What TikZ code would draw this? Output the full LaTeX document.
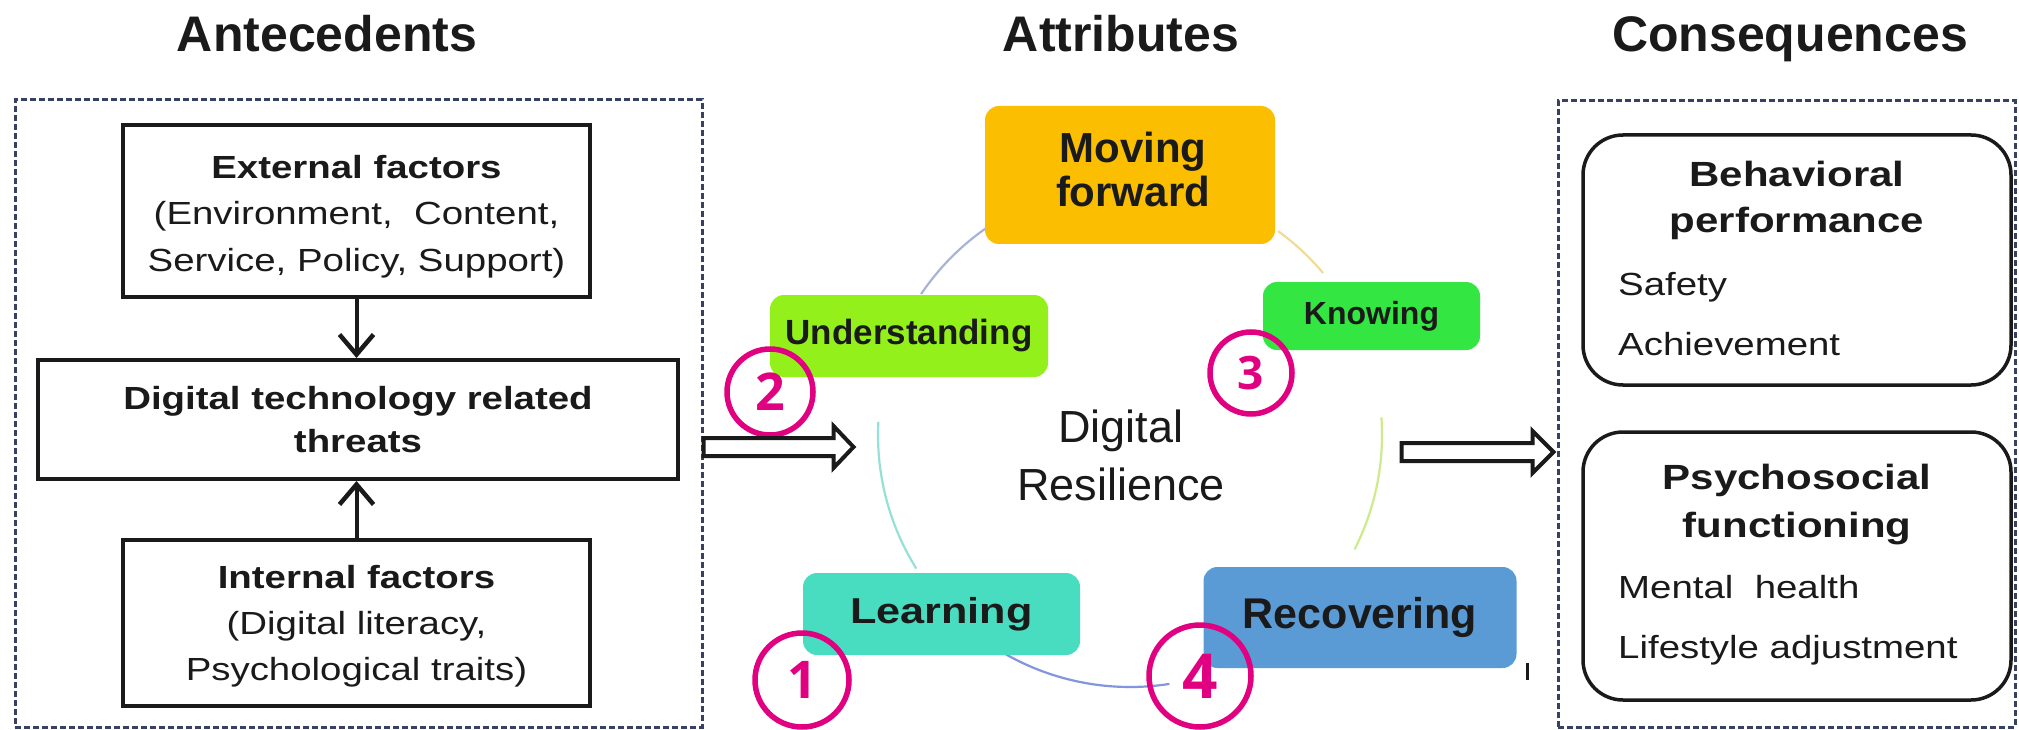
\documentclass[tikz,border=0pt]{standalone}
\usepackage{fontspec}
\setmainfont{Liberation Sans}
\newfontfamily\widefont[FakeStretch=1.2]{Liberation Sans}
\newfontfamily\numfont{Open Sans}
\usetikzlibrary{arrows.meta}
\definecolor{ink}{RGB}{26,26,26}
\definecolor{dashc}{RGB}{55,65,100}
\definecolor{cMov}{RGB}{252,190,0}
\definecolor{cUnd}{RGB}{148,240,26}
\definecolor{cKno}{RGB}{52,230,66}
\definecolor{cLea}{RGB}{72,221,192}
\definecolor{cRec}{RGB}{91,155,213}
\definecolor{mag}{RGB}{225,0,127}
\definecolor{arcA}{RGB}{165,180,215}
\definecolor{arcB}{RGB}{150,225,215}
\definecolor{arcC}{RGB}{130,150,220}
\definecolor{arcD}{RGB}{205,235,140}
\definecolor{arcE}{RGB}{240,220,150}
\tikzset{
  title/.style={anchor=base, inner sep=0pt, text=ink, font=\bfseries\fontsize{50}{60}\selectfont},
  panel/.style={draw=dashc, line width=3pt, dash pattern=on 6pt off 3pt, inner sep=0pt},
  sqbox/.style={draw=ink, line width=4pt, inner sep=0pt},
  rbox/.style={draw=ink, line width=3.5pt, rounded corners=40pt, inner sep=0pt},
  ltxt/.style={anchor=base, inner sep=0pt, text=ink, font=\widefont\fontsize{32}{46}\selectfont},
  lhead/.style={ltxt, font=\widefont\bfseries\fontsize{32}{46}\selectfont},
  rhead/.style={ltxt, font=\widefont\bfseries\fontsize{35}{46}\selectfont},
  item/.style={ltxt, anchor=base west},
  attr/.style={rounded corners=14pt, inner sep=0pt, text=ink},
  drtxt/.style={anchor=base, inner sep=0pt, text=ink, font=\fontsize{45}{54}\selectfont},
  ring/.style={circle, draw=mag, line width=5.5pt, inner sep=0pt, text=mag},
  blk/.style={draw=ink, line width=4pt, -{Straight Barb[length=20pt, width=34pt, line width=4.5pt]}},
  hollow/.style={draw=ink, line width=4pt, fill=white, line join=miter},
  arcline/.style={line width=2.2pt}
}
\begin{document}
\begin{tikzpicture}[x=1pt, y=-1pt]
\useasboundingbox[fill=white] (0,0) rectangle (2019,730);

% titles
\node[title] (tA) at (327,52) {Antecedents};
\node[title] (tB) at (1121,52) {Attributes};
\node[title] (tC) at (1790,52) {Consequences};

% ---------- antecedents panel ----------
\node[panel, minimum width=687pt, minimum height=627pt] (ante) at (358.5,413.5) {};
\node[sqbox, minimum width=467pt, minimum height=172pt] (ext) at (356.5,211) {};
\node[sqbox, minimum width=640pt, minimum height=119pt] (dig) at (358,419.5) {};
\node[sqbox, minimum width=467pt, minimum height=166pt] (int) at (356.5,623) {};

\node[lhead] (ext1) at (356.5,179) {External factors};
\node[ltxt] (ext2) at (356.5,225) {(Environment,\ \ Content,};
\node[ltxt] (ext3) at (356.5,271) {Service, Policy, Support)};
\node[lhead] (dig1) at (358,409) {Digital technology related};
\node[lhead] (dig2) at (358,452) {threats};
\node[lhead] (int1) at (356.5,588) {Internal factors};
\node[ltxt] (int2) at (356.5,634) {(Digital literacy,};
\node[ltxt] (int3) at (356.5,680) {Psychological traits)};

\draw[blk] (ext.south) -- (ext.south |- dig.north);
\draw[blk] (int.north) -- (int.north |- dig.south);

% ---------- attributes ----------
\coordinate (ctr) at (1130,435);
\draw[arcline, draw=arcA] (ctr) ++(-124:252) arc[start angle=-124, end angle=-146, radius=252];
\draw[arcline, draw=arcB] (ctr) ++(-177:252) arc[start angle=-177, end angle=-212, radius=252];
\draw[arcline, draw=arcC] (ctr) ++(-240:252) arc[start angle=-240, end angle=-279, radius=252];
\draw[arcline, draw=arcD] (ctr) ++(-333:252) arc[start angle=-333, end angle=-364, radius=252];
\draw[arcline, draw=arcE] (ctr) ++(-40:252) arc[start angle=-40, end angle=-54, radius=252];

\node[attr, fill=cMov, minimum width=290pt, minimum height=138pt] (mov) at (1130,175) {};
\node[anchor=base, inner sep=0pt, text=ink, font=\bfseries\fontsize{42}{44}\selectfont] (mov1) at (1133,163) {Moving};
\node[anchor=base, inner sep=0pt, text=ink, font=\bfseries\fontsize{42}{44}\selectfont] (mov2) at (1133,207) {forward};
\node[attr, fill=cUnd, minimum width=278pt, minimum height=82pt, font=\bfseries\fontsize{35}{40}\selectfont] (und) at (909,336) {Understanding};
\node[attr, fill=cKno, minimum width=217pt, minimum height=68pt, font=\bfseries\fontsize{32}{36}\selectfont] (kno) at (1371.5,316) {Knowing};
\node[attr, fill=cLea, minimum width=277pt, minimum height=82pt, font=\widefont\bfseries\fontsize{36}{40}\selectfont] (lea) at (941.5,614) {Learning};
\node[attr, fill=cRec, minimum width=313pt, minimum height=101pt, font=\bfseries\fontsize{43}{48}\selectfont] (rec) at (1360,617.5) {Recovering};

\node[drtxt] (dr1) at (1121,442) {Digital};
\node[drtxt] (dr2) at (1121,500) {Resilience};

% numbered rings
\node[ring, minimum size=94pt, font=\numfont\bfseries\fontsize{52}{52}\selectfont] (n1) at (802,680) {1};
\node[ring, minimum size=86pt, font=\numfont\bfseries\fontsize{52}{52}\selectfont] (n2) at (770,392) {2};
\node[ring, minimum size=82pt, font=\numfont\bfseries\fontsize{46}{46}\selectfont] (n3) at (1251,373) {3};
\node[ring, minimum size=102pt, font=\numfont\bfseries\fontsize{62}{62}\selectfont] (n4) at (1200,676) {4};

% small mark
\coordinate (tk) at (1527,663);
\draw[draw=ink, line width=3pt] (tk) -- ++(0,17);

% ---------- consequences panel ----------
\node[panel, minimum width=457pt, minimum height=626pt] (cons) at (1786.5,414) {};
\node[rbox, minimum width=428pt, minimum height=250pt] (beh) at (1797,260) {};
\node[rbox, minimum width=428pt, minimum height=268pt] (psy) at (1797,566) {};

\node[rhead] (beh1) at (1797,187) {Behavioral};
\node[rhead] (beh2) at (1797,233) {performance};
\node[item] (beh3) at (1618,295) {Safety};
\node[item] (beh4) at (1618,355) {Achievement};
\node[rhead] (psy1) at (1797,489) {Psychosocial};
\node[rhead] (psy2) at (1797,537) {functioning};
\node[item] (psy3) at (1618,598) {Mental\ \ health};
\node[item] (psy4) at (1618,658) {Lifestyle adjustment};

% ---------- hollow arrows ----------
\coordinate (la) at (ante.east |- 0,447);
\draw[hollow] (la) ++(0,-9) -- ++(130,0) -- ++(0,-12) -- ++(20,21) -- ++(-20,21) -- ++(0,-12) -- ++(-130,0) -- cycle;
\coordinate (ra) at (cons.west |- 0,452);
\draw[hollow] (ra) ++(-3,0) -- ++(-21,-21) -- ++(0,12) -- ++(-131,0) -- ++(0,18) -- ++(131,0) -- ++(0,12) -- cycle;
\end{tikzpicture}
\end{document}
